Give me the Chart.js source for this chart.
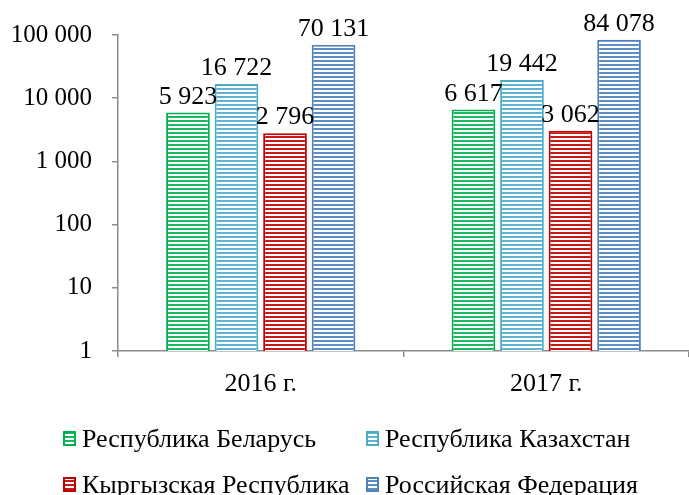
<!DOCTYPE html>
<html>
<head>
<meta charset="utf-8">
<script src="https://cdn.jsdelivr.net/npm/chart.js@4.4.0/dist/chart.umd.min.js"></script>
<style>
  html, body { margin: 0; padding: 0; background: #fff; }
</style>
</head>
<body>
<canvas id="chart" width="689" height="495"></canvas>
<script>
// -------------------------
// Data
// -------------------------
const categories = ['2016 г.', '2017 г.'];
const seriesNames = ['Республика Беларусь', 'Республика Казахстан', 'Кыргызская Республика', 'Российская Федерация'];
const belarus = [5923, 6617];
const kazakhstan = [16722, 19442];
const kyrgyzstan = [2796, 3062];
const russia = [70131, 84078];
const yTicks = [1, 10, 100, 1000, 10000, 100000];

const seriesColors = ['#00B050', '#4BACC6', '#C00000', '#4F81BD'];
const axisColor = '#8c8c8c';
const serif = "'Liberation Serif'";

// 12345 -> "12 345"
const fmt = v => String(v).replace(/\B(?=(\d{3})+(?!\d))/g, ' ');

// horizontal hatching like the Excel pattern fill
function stripes(color) {
    const c = document.createElement('canvas');
    c.width = 8;
    c.height = 4;
    const g = c.getContext('2d');
    g.fillStyle = '#fff';
    g.fillRect(0, 0, 8, 4);
    g.globalAlpha = 0.9;
    g.fillStyle = color;
    g.fillRect(0, 0, 8, 2);
    return g.createPattern(c, 'repeat');
}

const patterns = seriesColors.map(stripes);

// -------------------------
// Value labels above bars
// -------------------------
const valueLabels = {
    id: 'valueLabels',
    afterDatasetsDraw(chart) {
        const ctx = chart.ctx;
        ctx.save();
        ctx.font = 'normal normal 26px ' + serif;
        ctx.fillStyle = '#000';
        ctx.textAlign = 'center';
        ctx.textBaseline = 'alphabetic';
        chart.data.datasets.forEach((ds, i) => {
            chart.getDatasetMeta(i).data.forEach((bar, j) => {
                ctx.fillText(fmt(ds.data[j]), bar.x, bar.y - 9);
            });
        });
        ctx.restore();
    }
};

// -------------------------
// Legend in two fixed columns (as in the original)
// -------------------------
const gridLegend = {
    id: 'gridLegend',
    afterDraw(chart) {
        const ctx = chart.ctx;
        const cols = [63, 366];
        const rows = [447, 493];
        ctx.save();
        ctx.font = 'normal normal 26px ' + serif;
        ctx.textBaseline = 'alphabetic';
        ctx.textAlign = 'left';
        chart.data.datasets.forEach((ds, i) => {
            const x = cols[i % 2];
            const y = rows[Math.floor(i / 2)];
            ctx.fillStyle = ds.backgroundColor;
            ctx.fillRect(x, y - 16, 13, 15);
            ctx.strokeStyle = ds.borderColor;
            ctx.lineWidth = 2;
            ctx.strokeRect(x + 1, y - 15, 11, 13);
            ctx.fillStyle = '#000';
            ctx.fillText(ds.label, x + 19, y);
        });
        ctx.restore();
    }
};

const seriesData = [belarus, kazakhstan, kyrgyzstan, russia];

function draw() {
    new Chart(document.getElementById('chart').getContext('2d'), {
        type: 'bar',
        data: {
            labels: categories,
            datasets: seriesNames.map((name, i) => ({
                label: name,
                data: seriesData[i],
                backgroundColor: patterns[i],
                borderColor: seriesColors[i],
                borderWidth: 2,
                categoryPercentage: 0.68,
                barPercentage: 0.9
            }))
        },
        options: {
            responsive: false,
            animation: false,
            devicePixelRatio: 1,
            font: { family: serif },
            layout: {
                padding: { top: 34, left: 0, right: 0, bottom: 84 }
            },
            plugins: {
                legend: { display: false },
                tooltip: { enabled: false }
            },
            scales: {
                x: {
                    grid: {
                        display: true,
                        drawOnChartArea: false,
                        drawTicks: true,
                        tickLength: 6,
                        color: axisColor,
                        lineWidth: 1.5
                    },
                    border: { display: true, color: axisColor, width: 1.5 },
                    ticks: {
                        color: '#000',
                        font: { family: serif, size: 26 },
                        padding: 12
                    },
                    afterFit: s => { s.height = 60; }
                },
                y: {
                    type: 'logarithmic',
                    min: 1,
                    max: 100000,
                    afterBuildTicks: axis => {
                        axis.ticks = yTicks.map(v => ({ value: v }));
                    },
                    grid: {
                        display: true,
                        drawOnChartArea: false,
                        drawTicks: true,
                        tickLength: 6,
                        color: axisColor,
                        lineWidth: 1.5
                    },
                    border: { display: true, color: axisColor, width: 1.5 },
                    ticks: {
                        color: '#000',
                        font: { family: serif, size: 25 },
                        padding: 20,
                        callback: v => fmt(v)
                    },
                    afterFit: s => { s.width = 118; }
                }
            }
        },
        plugins: [valueLabels, gridLegend]
    });
}

if (document.fonts && document.fonts.load) {
    document.fonts.load('25px ' + serif, 'РеспубликаБеларусь0123').then(draw, draw);
} else {
    draw();
}
</script>
</body>
</html>
